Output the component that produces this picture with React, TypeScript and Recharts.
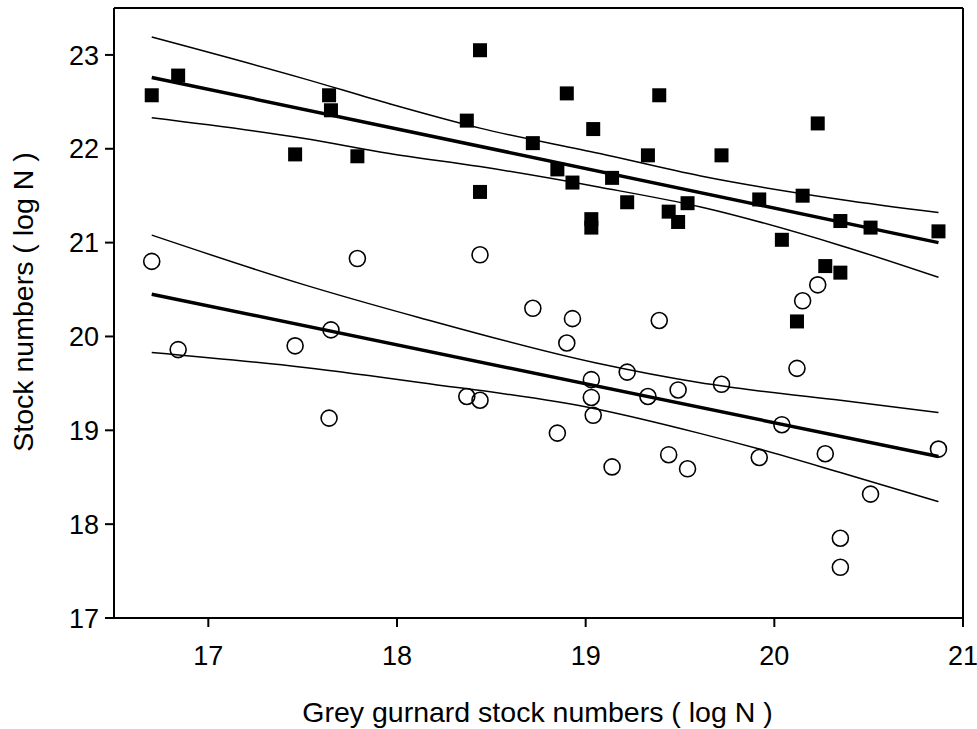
import React from 'react';
import { ComposedChart, Scatter, Line, XAxis, YAxis, ReferenceLine, Label } from 'recharts';

// Grey gurnard stock numbers (log N), shared by both series
const gurnardLogN = [
  16.7, 16.84, 17.46, 17.64, 17.65, 17.79, 18.37, 18.44, 18.44, 18.72, 18.85, 18.9,
  18.93, 19.03, 19.03, 19.04, 19.14, 19.22, 19.33, 19.39, 19.44, 19.49, 19.54, 19.72,
  19.92, 20.04, 20.12, 20.15, 20.23, 20.27, 20.35, 20.35, 20.51, 20.87,
];

// Filled squares
const squareLogN = [
  22.57, 22.78, 21.94, 22.57, 22.41, 21.92, 22.3, 23.05, 21.54, 22.06, 21.78, 22.59,
  21.64, 21.25, 21.16, 22.21, 21.69, 21.43, 21.93, 22.57, 21.33, 21.22, 21.42, 21.93,
  21.46, 21.03, 20.16, 21.5, 22.27, 20.75, 21.23, 20.68, 21.16, 21.12,
];

// Open circles
const circleLogN = [
  20.8, 19.86, 19.9, 19.13, 20.07, 20.83, 19.36, 20.87, 19.32, 20.3, 18.97, 19.93,
  20.19, 19.54, 19.35, 19.16, 18.61, 19.62, 19.36, 20.17, 18.74, 19.43, 18.59, 19.49,
  18.71, 19.06, 19.66, 20.38, 20.55, 18.75, 17.85, 17.54, 18.32, 18.8,
];

// Regression line and 95% confidence band, squares
const squareFitX = [16.7, 20.87];
const squareFitY = [22.76, 21.0];
const squareBandX = [16.7, 17.51, 17.96, 18.44, 19.075, 19.61, 20.35, 20.87];
const squareUpper = [23.19, 22.745, 22.48, 22.22, 21.95, 21.71, 21.46, 21.32];
const squareLower = [22.33, 22.11, 21.95, 21.81, 21.59, 21.38, 20.97, 20.63];

// Regression line and 95% confidence band, circles
const circleFitX = [16.7, 20.87];
const circleFitY = [20.45, 18.72];
const circleBandX = [16.7, 17.51, 18.12, 19.05, 19.6, 19.92, 20.35, 20.87];
const circleUpper = [21.08, 20.55, 20.2, 19.72, 19.51, 19.42, 19.32, 19.19];
const circleLower = [19.83, 19.67, 19.51, 19.23, 18.97, 18.8, 18.55, 18.24];

const xTicks = [17, 18, 19, 20, 21];
const yTicks = [17, 18, 19, 20, 21, 22, 23];

const xTitle = 'Grey gurnard stock numbers ( log N )';
const yTitle = 'Stock numbers ( log N )';

const zip = (xs: number[], ys: number[]) => xs.map((x, i) => ({ x, y: ys[i] }));

const squares = zip(gurnardLogN, squareLogN);
const circles = zip(gurnardLogN, circleLogN);

const FONT = '"Liberation Sans", Arial, sans-serif';
const INK = '#000000';
const TITLE_SIZE = 28.5;

const SquareMark = (props: any) => {
  const { cx, cy } = props;
  if (cx == null || cy == null) return null;
  const s = 14;
  return <rect x={cx - s / 2} y={cy - s / 2} width={s} height={s} fill={INK} />;
};

const CircleMark = (props: any) => {
  const { cx, cy } = props;
  if (cx == null || cy == null) return null;
  return <circle cx={cx} cy={cy} r={8} fill="none" stroke={INK} strokeWidth={1.6} />;
};

// Rotated y-axis title, baseline just left of the tick labels
const YTitle = (props: any) => {
  const { viewBox } = props;
  const cx = 33;
  const cy = viewBox.y + viewBox.height / 2 - 11;
  return (
    <text
      x={cx}
      y={cy}
      transform={`rotate(-90 ${cx} ${cy})`}
      textAnchor="middle"
      fill={INK}
      fontSize={TITLE_SIZE}
      fontFamily={FONT}
    >
      {yTitle}
    </text>
  );
};

// x-axis title near the foot of the figure
const XTitle = (props: any) => {
  const { viewBox } = props;
  const cx = viewBox.x + viewBox.width / 2 - 1;
  const cy = viewBox.y + viewBox.height - 7;
  return (
    <text x={cx} y={cy} textAnchor="middle" fill={INK} fontSize={TITLE_SIZE} fontFamily={FONT}>
      {xTitle}
    </text>
  );
};

const tickStyle = { fill: INK, fontSize: 27, fontFamily: FONT };

export default function App() {
  return (
    <div style={{ position: 'absolute', left: 0, top: 0, background: '#fff' }}>
      <ComposedChart
        width={977}
        height={729}
        margin={{ top: 8, right: 14, bottom: 0, left: 0 }}
      >
        <XAxis
          type="number"
          dataKey="x"
          domain={[16.5, 21]}
          ticks={xTicks}
          allowDataOverflow
          height={111}
          tickSize={9}
          tickMargin={19}
          tick={tickStyle}
          axisLine={{ stroke: INK, strokeWidth: 2 }}
          tickLine={{ stroke: INK, strokeWidth: 2 }}
        >
          <Label content={XTitle} />
        </XAxis>
        <YAxis
          type="number"
          dataKey="y"
          domain={[17, 23.5]}
          ticks={yTicks}
          allowDataOverflow
          width={114}
          tickSize={9}
          tickMargin={6}
          tick={tickStyle}
          axisLine={{ stroke: INK, strokeWidth: 2 }}
          tickLine={{ stroke: INK, strokeWidth: 2 }}
        >
          <Label content={YTitle} />
        </YAxis>

        <ReferenceLine y={23.5} stroke={INK} strokeWidth={2} />
        <ReferenceLine x={21} stroke={INK} strokeWidth={2} />

        <Line data={zip(squareBandX, squareUpper)} dataKey="y" type="monotone" stroke={INK} strokeWidth={1.5} dot={false} isAnimationActive={false} />
        <Line data={zip(squareBandX, squareLower)} dataKey="y" type="monotone" stroke={INK} strokeWidth={1.5} dot={false} isAnimationActive={false} />
        <Line data={zip(squareFitX, squareFitY)} dataKey="y" type="linear" stroke={INK} strokeWidth={3.5} dot={false} isAnimationActive={false} />

        <Line data={zip(circleBandX, circleUpper)} dataKey="y" type="monotone" stroke={INK} strokeWidth={1.5} dot={false} isAnimationActive={false} />
        <Line data={zip(circleBandX, circleLower)} dataKey="y" type="monotone" stroke={INK} strokeWidth={1.5} dot={false} isAnimationActive={false} />
        <Line data={zip(circleFitX, circleFitY)} dataKey="y" type="linear" stroke={INK} strokeWidth={3.5} dot={false} isAnimationActive={false} />

        <Scatter data={squares} dataKey="y" shape={SquareMark} isAnimationActive={false} />
        <Scatter data={circles} dataKey="y" shape={CircleMark} isAnimationActive={false} />
      </ComposedChart>
    </div>
  );
}
